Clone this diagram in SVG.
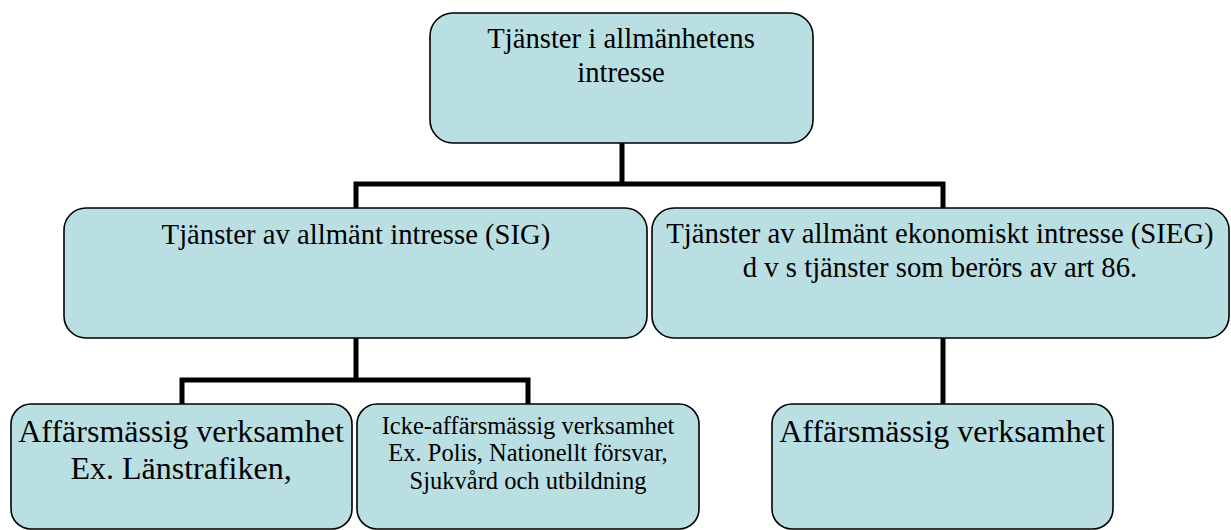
<svg xmlns="http://www.w3.org/2000/svg" width="1231" height="530" viewBox="0 0 1231 530">
<style>
.box{fill:#b9dfe3;stroke:#000;stroke-width:1.6}
.t{font-family:"Liberation Serif","Times New Roman",serif;fill:#000;text-anchor:middle}
.m{font-size:28.7px}
.l{font-size:32px}
.s{font-size:24.5px}
.c{fill:none;stroke:#000;stroke-width:5;stroke-linejoin:miter;stroke-linecap:butt}
</style>
<rect width="1231" height="530" fill="#fff"/>
<g id="connectors">
<line class="c" x1="622" y1="143" x2="622" y2="184"/>
<polyline class="c" points="356,208 356,184 943,184 943,208"/>
<line class="c" x1="356" y1="338" x2="356" y2="380"/>
<polyline class="c" points="182,404 182,380 528,380 528,404"/>
<line class="c" x1="943" y1="338" x2="943" y2="404"/>
</g>
<g id="root">
<rect class="box" x="430" y="13" width="383" height="130" rx="23"/>
<text class="t m" x="621" y="48">Tjänster i allmänhetens</text>
<text class="t m" x="621" y="82">intresse</text>
</g>
<g id="sig">
<rect class="box" x="64" y="208" width="583" height="130" rx="22"/>
<text class="t m" x="356" y="244">Tjänster av allmänt intresse (SIG)</text>
</g>
<g id="sieg">
<rect class="box" x="652" y="208" width="577" height="130" rx="22"/>
<text class="t m" x="940" y="243">Tjänster av allmänt ekonomiskt intresse (SIEG)</text>
<text class="t m" x="940" y="277">d v s tjänster som berörs av art 86.</text>
</g>
<g id="affar-sig">
<rect class="box" x="11" y="404" width="341" height="125" rx="20"/>
<text class="t l" x="181" y="442">Affärsmässig verksamhet</text>
<text class="t l" x="181" y="479">Ex. Länstrafiken,</text>
</g>
<g id="icke-affar">
<rect class="box" x="357" y="404" width="342" height="125" rx="20"/>
<text class="t s" x="528" y="434">Icke-affärsmässig verksamhet</text>
<text class="t s" x="528" y="461">Ex. Polis, Nationellt försvar,</text>
<text class="t s" x="528" y="489">Sjukvård och utbildning</text>
</g>
<g id="affar-sieg">
<rect class="box" x="772" y="404" width="341" height="125" rx="20"/>
<text class="t l" x="942" y="442">Affärsmässig verksamhet</text>
</g>
</svg>
